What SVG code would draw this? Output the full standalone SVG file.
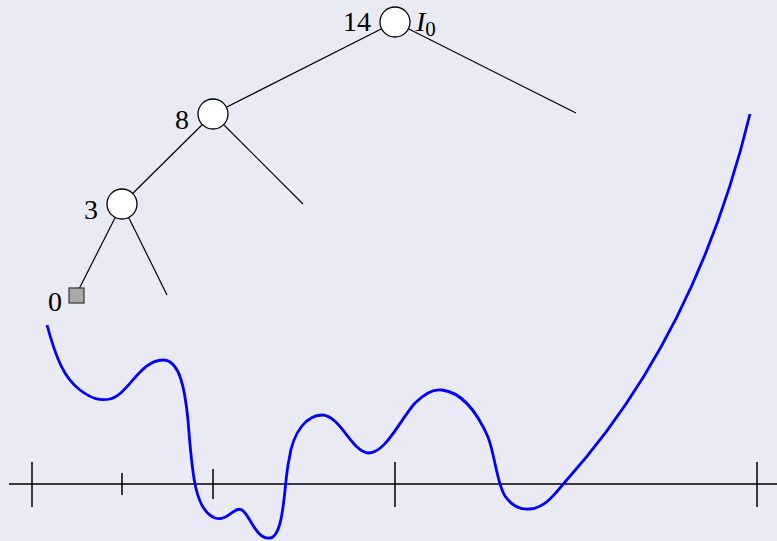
<svg xmlns="http://www.w3.org/2000/svg" width="777" height="541" viewBox="0 0 777 541">
<style>
.edge{stroke:#000;stroke-width:1.2;fill:none}
.node{fill:#fff;stroke:#000;stroke-width:1.3}
.lbl{font-family:"Liberation Serif","Times New Roman",serif;font-size:28px;fill:#000}
.tick{stroke:#000;stroke-width:1.5}
</style>
<rect width="777" height="541" fill="#eaeaf5"/>
<g id="connectors">
<line class="edge" x1="395" y1="22" x2="213" y2="114"/>
<line class="edge" x1="395" y1="22" x2="576" y2="113"/>
<line class="edge" x1="213" y1="114" x2="122" y2="204"/>
<line class="edge" x1="213" y1="114" x2="303" y2="204"/>
<line class="edge" x1="122" y1="204" x2="76" y2="295"/>
<line class="edge" x1="122" y1="204" x2="167" y2="295"/>
</g>
<g id="axis">
<line x1="9" y1="484" x2="777" y2="484" stroke="#000" stroke-width="1.5"/>
<line class="tick" x1="32" y1="462" x2="32" y2="507"/>
<line class="tick" x1="122" y1="473" x2="122" y2="495"/>
<line class="tick" x1="213" y1="469" x2="213" y2="499" stroke="#444"/>
<line class="tick" x1="395" y1="462" x2="395" y2="507"/>
<line class="tick" x1="757" y1="462" x2="757" y2="507"/>
</g>
<g id="curve">
<path d="M47,325 C56,358 64,378 80,390 C92,399 100,401 110,399 C128,395 140,360 163,360 C180,360 185,390 188,420 C192,470 194,510 215,518 C228,522 235,505 242,510 C250,515 256,540 270,538 C285,536 284,480 289,460 C293,430 308,415 322,415 C340,415 352,452 368,453 C385,454 400,420 415,403 C425,393 435,389 442,390 C460,392 476,410 488,437 C495,455 497,484 505,496 C512,506 520,510 530,509 C545,508 555,494 565,482 C610,432 700,320 750,114" fill="none" stroke="#0000ff" stroke-width="2.8"/>
</g>
<g id="node14">
<circle class="node" cx="395" cy="22" r="15"/>
<text class="lbl" x="371" y="31" text-anchor="end">14</text>
<text class="lbl" x="416" y="31"><tspan font-style="italic">I</tspan><tspan font-size="21" dy="5">0</tspan></text>
</g>
<g id="node8">
<circle class="node" cx="213" cy="114" r="15"/>
<text class="lbl" x="189" y="129" text-anchor="end">8</text>
</g>
<g id="node3">
<circle class="node" cx="122" cy="204" r="15"/>
<text class="lbl" x="98" y="219" text-anchor="end">3</text>
</g>
<g id="node0">
<rect x="69" y="288" width="15" height="15" fill="#aaaaaa" stroke="#333" stroke-width="1.2"/>
<text class="lbl" x="62" y="311" text-anchor="end">0</text>
</g>
</svg>
